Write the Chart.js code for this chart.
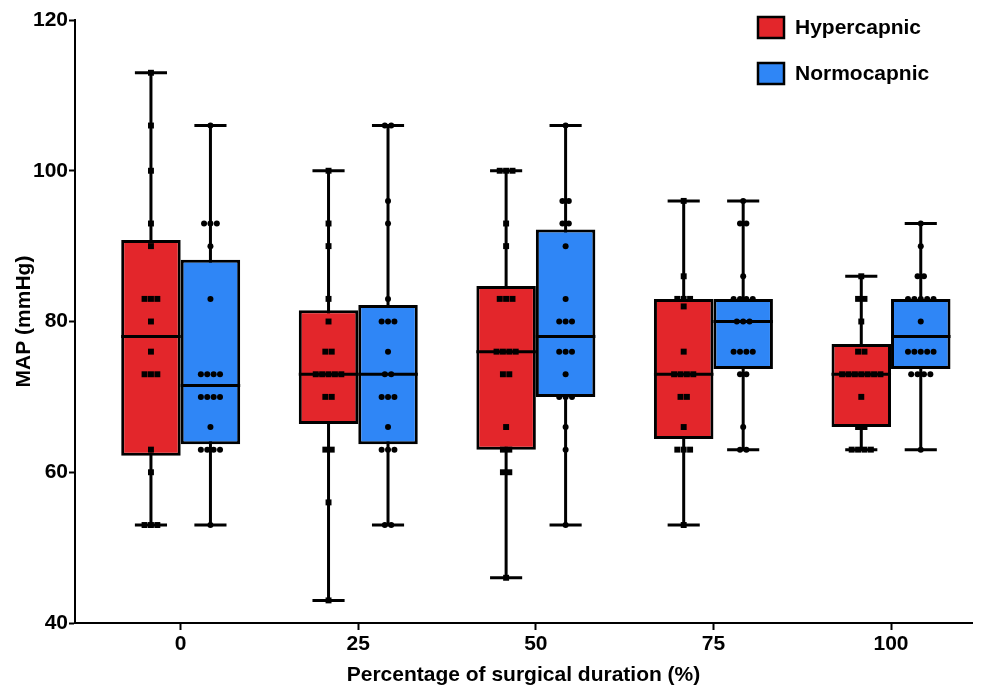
<!DOCTYPE html>
<html>
<head>
<meta charset="utf-8">
<script src="https://cdn.jsdelivr.net/npm/chart.js@4/dist/chart.umd.min.js"></script>
<style>
  html, body { margin:0; padding:0; background:#fff; }
</style>
</head>
<body>
<canvas id="c" width="987" height="689"></canvas>
<script>
// time points (% of surgical duration)
const groups = [0, 25, 50, 75, 100];
const xTicks = [0, 25, 50, 75, 100];
const yTicks = [40, 60, 80, 100, 120];

// box stats: [min, q1, median, q3, max]
const hyperBox = [[53, 62.2, 78, 90.8, 113], [43, 66.4, 73, 81.5, 100], [46, 63, 76, 84.7, 100], [53, 64.4, 73, 83, 96], [63, 66, 73, 77, 86]];
const normoBox = [[53, 63.7, 71.5, 88.2, 106], [53, 63.7, 73, 82.2, 106], [53, 70, 78, 92.2, 106], [63, 73.7, 80, 83, 96], [63, 73.7, 78, 83, 93]];

// individual MAP values per time point
const hyper0   = [113, 106, 100, 93, 90, 83, 83, 83, 80, 76, 73, 73, 73, 63, 60, 53, 53, 53];
const hyper25  = [100, 93, 90, 83, 80, 76, 76, 73, 73, 73, 73, 73, 70, 70, 63, 63, 56, 43];
const hyper50  = [100, 100, 100, 93, 90, 83, 83, 83, 76, 76, 76, 76, 73, 73, 66, 63, 63, 60, 60, 46];
const hyper75  = [96, 86, 83, 83, 83, 82, 76, 73, 73, 73, 73, 70, 70, 66, 63, 63, 63, 53];
const hyper100 = [86, 83, 83, 80, 76, 76, 73, 73, 73, 73, 73, 73, 73, 70, 66, 66, 63, 63, 63, 63];
const normo0   = [106, 93, 93, 93, 90, 83, 73, 73, 73, 73, 70, 70, 70, 70, 66, 63, 63, 63, 63, 53];
const normo25  = [106, 106, 96, 93, 83, 80, 80, 80, 76, 73, 73, 70, 70, 70, 66, 63, 63, 63, 53, 53];
const normo50  = [106, 96, 96, 93, 93, 90, 83, 80, 80, 80, 76, 76, 76, 73, 70, 70, 70, 66, 63, 53];
const normo75  = [96, 93, 93, 86, 83, 83, 83, 83, 80, 80, 80, 76, 76, 76, 76, 73, 73, 66, 63, 63];
const normo100 = [93, 90, 86, 86, 83, 83, 83, 83, 83, 80, 76, 76, 76, 76, 76, 73, 73, 73, 73, 63];

const hyperPts = [hyper0, hyper25, hyper50, hyper75, hyper100];
const normoPts = [normo0, normo25, normo50, normo75, normo100];

const RED = '#e3262b', BLUE = '#2f86f6';
const FONT = "'Liberation Sans', Arial, Helvetica, sans-serif";
const CAT_PCT = 0.67;
const SHIFT = 25 * CAT_PCT / 4;   // half a box, in x units
const DOT_GAP = 0.9;              // side-by-side spacing for equal values

// lay equal values side by side around the box centre
function spread(vals, cx){
  const counts = {}, seen = {};
  vals.forEach(v => counts[v] = (counts[v] || 0) + 1);
  return vals.map(v => {
    const k = seen[v] = (seen[v] ?? -1) + 1;
    return { x: cx + (k - (counts[v] - 1) / 2) * DOT_GAP, y: v };
  });
}

const boxPlot = {
  id: 'boxPlot',
  beforeDatasetsDraw(chart){
    const {ctx, scales:{y}} = chart;
    [hyperBox, normoBox].forEach((stats, di) => {
      chart.getDatasetMeta(di).data.forEach((bar, i) => {
        const top = y.getPixelForValue(stats[i][4]);
        const bot = y.getPixelForValue(stats[i][0]);
        const cap = bar.width * 0.27;
        ctx.save();
        ctx.strokeStyle = '#000'; ctx.lineWidth = 3;
        ctx.beginPath();
        ctx.moveTo(bar.x, top); ctx.lineTo(bar.x, bot);
        ctx.moveTo(bar.x - cap, top); ctx.lineTo(bar.x + cap, top);
        ctx.moveTo(bar.x - cap, bot); ctx.lineTo(bar.x + cap, bot);
        ctx.stroke();
        ctx.restore();
      });
    });
  },
  afterDatasetDraw(chart, args){
    if (args.meta.type !== 'bar') return;
    const {ctx, scales:{y}} = chart;
    const stats = args.index === 0 ? hyperBox : normoBox;
    args.meta.data.forEach((bar, i) => {
      const my = y.getPixelForValue(stats[i][2]);
      ctx.save();
      ctx.strokeStyle = '#000'; ctx.lineWidth = 3;
      ctx.beginPath();
      ctx.moveTo(bar.x - bar.width / 2, my); ctx.lineTo(bar.x + bar.width / 2, my);
      ctx.stroke();
      ctx.restore();
    });
  },
  afterDraw(chart){
    const {ctx, chartArea} = chart;
    const x0 = chartArea.right - 214;
    [0, 1].forEach(i => {
      const ds = chart.data.datasets[i];
      const yc = 27 + i * 46;
      ctx.save();
      ctx.fillStyle = ds.backgroundColor;
      ctx.fillRect(x0, yc - 10, 26, 21);
      ctx.strokeStyle = '#000'; ctx.lineWidth = 2.5;
      ctx.strokeRect(x0, yc - 10, 26, 21);
      ctx.fillStyle = '#000';
      ctx.font = 'bold 21px ' + FONT;
      ctx.textBaseline = 'middle';
      ctx.fillText(ds.label, x0 + 37, yc + 1);
      ctx.restore();
    });
  }
};

new Chart(document.getElementById('c'), {
  type: 'bar',
  data: {
    datasets: [
      { label:'Hypercapnic', order:1, data: groups.map((g, i) => ({ x:g, y:[hyperBox[i][1], hyperBox[i][3]] })),
        backgroundColor:RED, borderColor:'#000', borderWidth:3, borderSkipped:false,
        categoryPercentage:CAT_PCT, barPercentage:1 },
      { label:'Normocapnic', order:1, data: groups.map((g, i) => ({ x:g, y:[normoBox[i][1], normoBox[i][3]] })),
        backgroundColor:BLUE, borderColor:'#000', borderWidth:3, borderSkipped:false,
        categoryPercentage:CAT_PCT, barPercentage:1 },
      { type:'scatter', label:'Hypercapnic points', order:0,
        data: groups.flatMap((g, i) => spread(hyperPts[i], g - SHIFT)),
        pointStyle:'rect', pointRadius:4.2, backgroundColor:'#000', borderColor:'#000', borderWidth:0 },
      { type:'scatter', label:'Normocapnic points', order:0,
        data: groups.flatMap((g, i) => spread(normoPts[i], g + SHIFT)),
        pointStyle:'circle', pointRadius:3, backgroundColor:'#000', borderColor:'#000', borderWidth:0 }
    ]
  },
  options: {
    responsive:false, animation:false,
    layout:{ padding:{ top:20, right:15, left:0, bottom:0 } },
    plugins:{ legend:{display:false}, tooltip:{enabled:false} },
    scales:{
      x:{
        type:'linear', min:-14.88, max:111.4, offset:false,
        afterBuildTicks: s => { s.ticks = xTicks.map(v => ({ value:v })); },
        afterFit: s => { s.height = 66; },
        grid:{ display:true, offset:false, drawOnChartArea:false, tickLength:7, tickWidth:2, tickColor:'#000' },
        border:{ display:true, color:'#000', width:2 },
        ticks:{ color:'#000', padding:2, font:{ family:FONT, size:21, weight:'bold' } },
        title:{ display:true, text:'Percentage of surgical duration (%)', color:'#000',
          padding:{ top:0, bottom:1 }, font:{ family:FONT, size:21, weight:'bold' } }
      },
      y:{
        min:40, max:120,
        afterBuildTicks: s => { s.ticks = yTicks.map(v => ({ value:v })); },
        afterFit: s => { s.width = 75; },
        grid:{ display:true, drawOnChartArea:false, tickLength:6, tickWidth:2, tickColor:'#000' },
        border:{ display:true, color:'#000', width:2 },
        ticks:{ color:'#000', padding:1, font:{ family:FONT, size:21, weight:'bold' } },
        title:{ display:true, text:'MAP (mmHg)', color:'#000',
          padding:{ top:12, bottom:0 }, font:{ family:FONT, size:21, weight:'bold' } }
      }
    }
  },
  plugins:[boxPlot]
});
</script>
</body>
</html>
